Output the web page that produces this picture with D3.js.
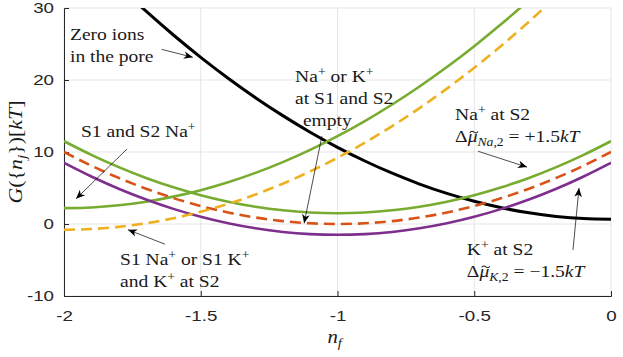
<!DOCTYPE html>
<html>
<head>
<meta charset="utf-8">
<script src="https://cdn.jsdelivr.net/npm/d3@7"></script>
<style>
  body { margin: 0; background: #fff; }
</style>
</head>
<body>
<div id="chart"></div>
<script>
// n_f sample points and free energies G({n_j}) [kT]
const nf = [-2, -1.9, -1.8, -1.7, -1.6, -1.5, -1.4, -1.3, -1.2, -1.1, -1,
            -0.9, -0.8, -0.7, -0.6, -0.5, -0.4, -0.3, -0.2, -0.1, 0];
const zeroIons = [40.65, 36.75, 33.05, 29.55, 26.25, 23.15, 20.25, 17.55, 15.05, 12.75, 10.65,
                  8.75, 7.05, 5.55, 4.25, 3.15, 2.25, 1.55, 1.05, 0.75, 0.65];
const s1s2Na = [2.2, 2.3, 2.6, 3.1, 3.8, 4.7, 5.8, 7.1, 8.6, 10.3, 12.2,
                14.3, 16.6, 19.1, 21.8, 24.7, 27.8, 31.1, 34.6, 38.3, 42.2];
const naAtS2 = [11.5, 9.6, 7.9, 6.4, 5.1, 4.0, 3.1, 2.4, 1.9, 1.6, 1.5,
                1.6, 1.9, 2.4, 3.1, 4.0, 5.1, 6.4, 7.9, 9.6, 11.5];
const emptyS1S2 = [10, 8.1, 6.4, 4.9, 3.6, 2.5, 1.6, 0.9, 0.4, 0.1, 0,
                   0.1, 0.4, 0.9, 1.6, 2.5, 3.6, 4.9, 6.4, 8.1, 10];
const kAtS2 = [8.5, 6.6, 4.9, 3.4, 2.1, 1.0, 0.1, -0.6, -1.1, -1.4, -1.5,
               -1.4, -1.1, -0.6, 0.1, 1.0, 2.1, 3.4, 4.9, 6.6, 8.5];
const s1KS2 = [-0.8, -0.7, -0.4, 0.1, 0.8, 1.7, 2.8, 4.1, 5.6, 7.3, 9.2,
               11.3, 13.6, 16.1, 18.8, 21.7, 24.8, 28.1, 31.6, 35.3, 39.2];

const xTicks = [-2, -1.5, -1, -0.5, 0];
const yTicks = [-10, 0, 10, 20, 30];

const width = 623, height = 357;
const margin = {top: 8, right: 12, bottom: 61, left: 64};

const svg = d3.select("#chart").append("svg")
    .attr("width", width)
    .attr("height", height);

const x = d3.scaleLinear().domain([-2, 0]).range([margin.left, width - margin.right]);
const y = d3.scaleLinear().domain([-10, 30]).range([height - margin.bottom, margin.top]);

const serif = "'Liberation Serif', 'Times New Roman', serif";
const axisCol = "#262626";
const stretch = 1.15;   // the LaTeX glyphs are wider than Liberation's

// grid + box
const grid = svg.append("g").attr("stroke", "#e5e5e5").attr("stroke-width", 1);
xTicks.forEach(t => grid.append("line")
  .attr("x1", x(t)).attr("x2", x(t)).attr("y1", y(-10)).attr("y2", y(30)));
yTicks.forEach(t => grid.append("line")
  .attr("x1", x(-2)).attr("x2", x(0)).attr("y1", y(t)).attr("y2", y(t)));

svg.append("clipPath").attr("id", "plot-clip")
  .append("rect")
    .attr("x", x(-2)).attr("y", y(30))
    .attr("width", x(0) - x(-2)).attr("height", y(-10) - y(30));

// axes
const xAxis = d3.axisBottom(x).tickValues(xTicks).tickSize(-5).tickPadding(14)
    .tickFormat(d => String(d));
const yAxis = d3.axisLeft(y).tickValues(yTicks).tickSize(-5).tickPadding(8)
    .tickFormat(d => String(d));

const gx = svg.append("g").attr("transform", `translate(0,${y(-10)})`).call(xAxis);
const gy = svg.append("g").attr("transform", `translate(${x(-2)},0)`).call(yAxis);
[gx, gy].forEach(g => {
  g.select(".domain").attr("stroke", axisCol);
  g.selectAll(".tick line").attr("stroke", axisCol);
  g.selectAll(".tick text")
    .attr("fill", axisCol)
    .attr("font-family", "'Liberation Sans', Arial, sans-serif")
    .attr("font-size", 15)
    .attr("transform", "scale(1.25,1)");
});
gx.selectAll(".tick line").filter(d => d === -2 || d === 0).remove();
gy.selectAll(".tick line").filter(d => d === -10 || d === 30).remove();

// curves
const series = [
  {values: zeroIons, color: "#000000", width: 3, dash: null},
  {values: s1s2Na, color: "#77AC30", width: 2.6, dash: null},
  {values: naAtS2, color: "#77AC30", width: 2.6, dash: null},
  {values: emptyS1S2, color: "#D95319", width: 2.6, dash: "11,6"},
  {values: kAtS2, color: "#7E2F8E", width: 2.6, dash: null},
  {values: s1KS2, color: "#EDB120", width: 2.6, dash: "11,6"}
];

const line = d3.line()
  .x(d => x(d[0]))
  .y(d => y(d[1]))
  .curve(d3.curveNatural);

svg.append("g").attr("clip-path", "url(#plot-clip)")
  .selectAll("path")
  .data(series)
  .join("path")
    .attr("fill", "none")
    .attr("stroke", d => d.color)
    .attr("stroke-width", d => d.width)
    .attr("stroke-dasharray", d => d.dash)
    .attr("d", d => line(nf.map((v, i) => [v, d.values[i]])));

// rich text helper: segments {t, i (italic), sub, sup, tilde}
function richText(parent, px, py, segs, size, rot) {
  const g = parent.append("g")
    .attr("transform", `translate(${px},${py})${rot ? " rotate(" + rot + ")" : ""} scale(${stretch},1)`);
  const text = g.append("text")
    .attr("font-family", serif)
    .attr("font-size", size)
    .attr("fill", "#1a1a1a");
  let shift = 0, idx = 0;
  const tildes = [];
  segs.forEach(s => {
    const target = s.sup ? -6 : (s.sub ? 4 : 0);
    text.append("tspan")
      .attr("dy", target - shift)
      .attr("font-style", s.i ? "italic" : "normal")
      .attr("font-size", (s.sup || s.sub) ? size * 0.7 : size)
      .text(s.t);
    if (s.tilde) tildes.push(idx);
    idx += s.t.length;
    shift = target;
  });
  if (rot) {
    const w = text.node().getComputedTextLength();
    text.attr("x", -w / 2);
  }
  // accent drawn as a small wave above the glyph
  tildes.forEach(k => {
    const b = text.node().getExtentOfChar(k);
    const cx = b.x + b.width / 2 + 1.2, cy = -size * 0.6;
    g.append("path")
      .attr("d", `M${cx - 3.5},${cy + 0.6} C${cx - 2.2},${cy - 1.8} ${cx - 0.8},${cy - 0.6} ${cx},${cy}` +
                 ` S${cx + 2.2},${cy + 1.8} ${cx + 3.5},${cy - 0.6}`)
      .attr("fill", "none")
      .attr("stroke", "#1a1a1a")
      .attr("stroke-width", 1);
  });
  return g;
}

const ann = svg.append("g");
const fs = 17;
const labels = [
  {at: [-1.978, 25.6], lines: [[{t: "Zero ions"}], [{t: "in the pore"}]]},
  {at: [-1.938, 12.1], lines: [[{t: "S1 and S2 Na"}, {t: "+", sup: true}]]},
  {at: [-1.155, 19.7], lines: [
    [{t: "Na"}, {t: "+", sup: true}, {t: " or K"}, {t: "+", sup: true}],
    [{t: "at S1 and S2"}],
    [{t: "\u2009\u2009empty"}]]},
  {at: [-0.570, 14.4], lines: [
    [{t: "Na"}, {t: "+", sup: true}, {t: " at S2"}],
    [{t: "\u0394"}, {t: "\u03bc", i: true, tilde: true}, {t: "Na", i: true, sub: true}, {t: ",2", sub: true},
     {t: " = +1.5"}, {t: "kT", i: true}]]},
  {at: [-0.527, -4.3], lines: [
    [{t: "K"}, {t: "+", sup: true}, {t: " at S2"}],
    [{t: "\u0394"}, {t: "\u03bc", i: true, tilde: true}, {t: "K", i: true, sub: true}, {t: ",2", sub: true},
     {t: " = \u22121.5"}, {t: "kT", i: true}]]},
  {at: [-1.795, -5.7], lines: [
    [{t: "S1 Na"}, {t: "+", sup: true}, {t: " or S1 K"}, {t: "+", sup: true}],
    [{t: "and K"}, {t: "+", sup: true}, {t: " at S2"}]]}
];
labels.forEach(l => l.lines.forEach((segs, k) =>
  richText(ann, x(l.at[0]), y(l.at[1]) + k * 22, segs, fs)));

// arrows: [tail, head] in data units
const arrows = [
  [[-1.643, 24.26], [-1.529, 23.15]],
  [[-1.770, 10.4], [-1.956, 3.5]],
  [[-1.631, -2.8], [-1.766, -0.8]],
  [[-1.057, 12.2], [-1.122, 0.1]],
  [[-0.486, 10.1], [-0.307, 7.9]],
  [[-0.139, -3.6], [-0.117, 5.0]]
];
arrows.forEach(([t, h]) => {
  const x0 = x(t[0]), y0 = y(t[1]), x1 = x(h[0]), y1 = y(h[1]);
  const ang = Math.atan2(y1 - y0, x1 - x0) * 180 / Math.PI;
  ann.append("line")
    .attr("x1", x0).attr("y1", y0).attr("x2", x1).attr("y2", y1)
    .attr("stroke", "#000").attr("stroke-width", 0.7);
  ann.append("path")
    .attr("d", "M0,0 L-9,-3.8 L-6.5,0 L-9,3.8 Z")
    .attr("fill", "#000")
    .attr("transform", `translate(${x1},${y1}) rotate(${ang})`);
});

// axis labels
richText(svg, x(-1) - 10, height - 14, [{t: "n", i: true}, {t: "f", i: true, sub: true}], 18);

richText(svg, 22, (y(30) + y(-10)) / 2, [
  {t: "G", i: true}, {t: "({"}, {t: "n", i: true}, {t: "j", i: true, sub: true},
  {t: "})["}, {t: "kT", i: true}, {t: "]"}], 19, -90);
</script>
</body>
</html>
